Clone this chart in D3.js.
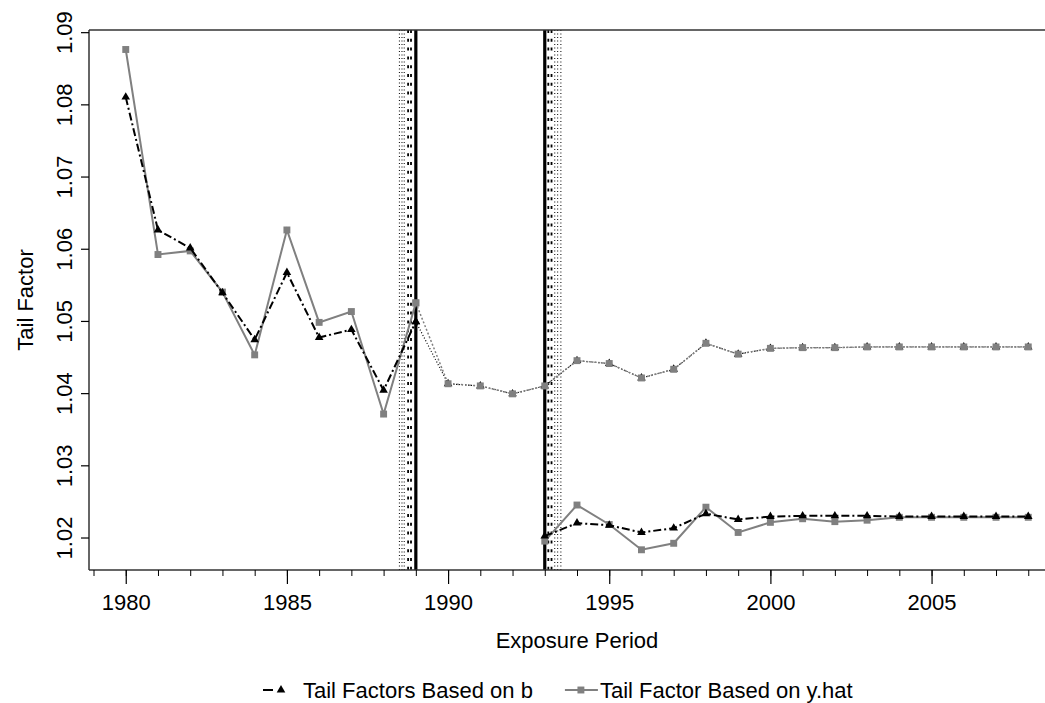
<!DOCTYPE html>
<html>
<head>
<meta charset="utf-8">
<script src="https://cdn.jsdelivr.net/npm/d3@7"></script>
<style>
  body { margin: 0; background: #fff; }
  text { font-family: "Liberation Sans", Arial, sans-serif; fill: #000; }
</style>
</head>
<body>
<svg id="chart" width="1045" height="703"></svg>
<script>
const width = 1045
const height = 703

// early period, 1980-1989
const yearsEarly = [1980, 1981, 1982, 1983, 1984, 1985, 1986, 1987, 1988, 1989]
const bEarly = [1.0810, 1.0626, 1.0601, 1.0539, 1.0474, 1.0567, 1.0477, 1.0488, 1.0404, 1.0499]
const yhatEarly = [1.0876, 1.0592, 1.0597, 1.0540, 1.0453, 1.0626, 1.0498, 1.0513, 1.0371, 1.0525]

// dotted continuation, 1989-2008
const yearsMid = [1989, 1990, 1991, 1992, 1993, 1994, 1995, 1996, 1997, 1998,
  1999, 2000, 2001, 2002, 2003, 2004, 2005, 2006, 2007, 2008]
const bMid = [1.0499, 1.0413, 1.0410, 1.0399, 1.0410, 1.0445, 1.0441, 1.0421, 1.0433, 1.0469,
  1.0454, 1.0462, 1.0463, 1.0463, 1.0464, 1.0464, 1.0464, 1.0464, 1.0464, 1.0464]
const yhatMid = [1.0525, 1.0413, 1.0410, 1.0399, 1.0410, 1.0445, 1.0441, 1.0421, 1.0433, 1.0469,
  1.0454, 1.0462, 1.0463, 1.0463, 1.0464, 1.0464, 1.0464, 1.0464, 1.0464, 1.0464]

// late period, 1993-2008
const yearsLate = [1993, 1994, 1995, 1996, 1997, 1998, 1999, 2000, 2001, 2002,
  2003, 2004, 2005, 2006, 2007, 2008]
const bLate = [1.0202, 1.0220, 1.0217, 1.0207, 1.0213, 1.0233, 1.0225, 1.0229, 1.0230, 1.0230,
  1.0230, 1.0229, 1.0229, 1.0229, 1.0229, 1.0229]
const yhatLate = [1.0195, 1.0245, 1.0218, 1.0183, 1.0192, 1.0242, 1.0207, 1.0221, 1.0226, 1.0222,
  1.0224, 1.0228, 1.0228, 1.0228, 1.0228, 1.0228]

// break points and their bands
const breaks = [1989, 1993]
const breakDashed = [1988.85, 1988.76, 1993.11, 1993.21]
const breakDotted = [1988.64, 1988.57, 1988.49, 1993.31, 1993.40, 1993.50]

const xTicks = [1980, 1985, 1990, 1995, 2000, 2005]
const yTicks = [1.02, 1.03, 1.04, 1.05, 1.06, 1.07, 1.08, 1.09]
const legendLabels = ['Tail Factors Based on b', 'Tail Factor Based on y.hat']

const m = {left: 89, top: 30, right: 1065, bottom: 570}
const fontSize = 22
const grey = '#808080'

const svg = d3.select('#chart')

const x = d3.scaleLinear().domain([1978.86, 2009.14]).range([m.left, m.right])
const y = d3.scaleLinear().domain([1.0155, 1.0903]).range([m.bottom, m.top])

// vertical break lines
svg.append('g').selectAll('line').data(breakDotted).enter().append('line')
  .attr('x1', d => x(d)).attr('x2', d => x(d))
  .attr('y1', m.top).attr('y2', m.bottom)
  .attr('stroke', '#000').attr('stroke-width', 1).attr('stroke-dasharray', '1,2.5')
svg.append('g').selectAll('line').data(breakDashed).enter().append('line')
  .attr('x1', d => x(d)).attr('x2', d => x(d))
  .attr('y1', m.top).attr('y2', m.bottom)
  .attr('stroke', '#000').attr('stroke-width', 1.8).attr('stroke-dasharray', '3,5.8')
svg.append('g').selectAll('line').data(breaks).enter().append('line')
  .attr('x1', d => x(d)).attr('x2', d => x(d))
  .attr('y1', m.top).attr('y2', m.bottom)
  .attr('stroke', '#000').attr('stroke-width', 3.2)

// frame
const frame = svg.append('g').attr('stroke', '#333').attr('stroke-width', 1.5)
frame.append('line').attr('x1', m.left).attr('x2', m.right).attr('y1', m.top).attr('y2', m.top)
frame.append('line').attr('x1', m.left).attr('x2', m.right).attr('y1', m.bottom).attr('y2', m.bottom)
frame.append('line').attr('x1', m.left).attr('x2', m.left).attr('y1', m.top).attr('y2', m.bottom)

// axes
const minorYears = d3.range(1979, 2010)
svg.append('g').attr('transform', `translate(0,${m.bottom})`)
  .call(d3.axisBottom(x).tickValues(minorYears).tickSize(6).tickFormat(''))
  .call(g => g.select('.domain').remove())
  .call(g => g.selectAll('line').attr('stroke', '#000'))

const xAxis = svg.append('g').attr('transform', `translate(0,${m.bottom})`)
  .call(d3.axisBottom(x).tickValues(xTicks).tickSize(14).tickPadding(10).tickFormat(d3.format('d')))
  .call(g => g.select('.domain').remove())
xAxis.selectAll('line').attr('stroke', '#000').attr('stroke-width', 1.2)
xAxis.selectAll('text').attr('font-size', fontSize).attr('font-family', null)

const yAxis = svg.append('g').attr('transform', `translate(${m.left},0)`)
  .call(d3.axisLeft(y).tickValues(yTicks).tickSize(8).tickFormat(d3.format('.2f')))
  .call(g => g.select('.domain').remove())
yAxis.selectAll('line').attr('stroke', '#000').attr('stroke-width', 1.2)
yAxis.selectAll('text')
  .attr('font-size', fontSize).attr('font-family', null)
  .attr('x', null).attr('dy', null)
  .attr('text-anchor', 'middle')
  .attr('transform', 'translate(-17,0) rotate(-90)')

// axis titles
svg.append('text')
  .attr('x', (m.left + m.right) / 2).attr('y', 648)
  .attr('text-anchor', 'middle').attr('font-size', fontSize)
  .text('Exposure Period')
svg.append('text')
  .attr('transform', `translate(33,${(m.top + m.bottom) / 2}) rotate(-90)`)
  .attr('text-anchor', 'middle').attr('font-size', fontSize)
  .text('Tail Factor')

const line = d3.line().x(d => x(d[0])).y(d => y(d[1]))
const pairs = (xs, ys) => xs.map((d, i) => [d, ys[i]])
const tri = d3.symbol().type(d3.symbolTriangle).size(32)
const sq = d3.symbol().type(d3.symbolSquare).size(48)

function drawSeries(xs, ys, opts) {
  const pts = pairs(xs, ys)
  svg.append('path').datum(pts)
    .attr('d', line)
    .attr('fill', 'none')
    .attr('stroke', opts.color)
    .attr('stroke-width', opts.width)
    .attr('stroke-dasharray', opts.dash)
  svg.append('g').selectAll('path').data(pts).enter().append('path')
    .attr('d', opts.symbol)
    .attr('transform', d => `translate(${x(d[0])},${y(d[1])})`)
    .attr('fill', opts.color)
}

// dotted continuation first, then main series
drawSeries(yearsMid, bMid, {color: '#000', width: 1.2, dash: '1,2', symbol: tri})
drawSeries(yearsMid, yhatMid, {color: grey, width: 1.5, dash: '2,2', symbol: sq})
drawSeries(yearsEarly, yhatEarly, {color: grey, width: 2, dash: null, symbol: sq})
drawSeries(yearsLate, yhatLate, {color: grey, width: 2, dash: null, symbol: sq})
drawSeries(yearsEarly, bEarly, {color: '#000', width: 2, dash: '8,3,2,3', symbol: tri})
drawSeries(yearsLate, bLate, {color: '#000', width: 2, dash: '8,3,2,3', symbol: tri})

// legend
const legendY = 690
const legend = svg.append('g')
const item1 = legend.append('g').attr('transform', `translate(263,${legendY})`)
item1.append('line').attr('x1', 0).attr('x2', 10).attr('y1', 0).attr('y2', 0)
  .attr('stroke', '#000').attr('stroke-width', 2)
item1.append('path').attr('d', tri).attr('transform', 'translate(18,0)').attr('fill', '#000')
const t1 = item1.append('text').attr('x', 40).attr('y', 0).attr('dy', '0.35em')
  .attr('font-size', fontSize).text(legendLabels[0])

const item2X = 263 + 40 + t1.node().getComputedTextLength() + 32
const item2 = legend.append('g').attr('transform', `translate(${item2X},${legendY})`)
item2.append('line').attr('x1', 0).attr('x2', 33).attr('y1', 0).attr('y2', 0)
  .attr('stroke', grey).attr('stroke-width', 2)
item2.append('path').attr('d', sq).attr('transform', 'translate(16,0)').attr('fill', grey)
item2.append('text').attr('x', 35).attr('y', 0).attr('dy', '0.35em')
  .attr('font-size', fontSize).text(legendLabels[1])
</script>
</body>
</html>
